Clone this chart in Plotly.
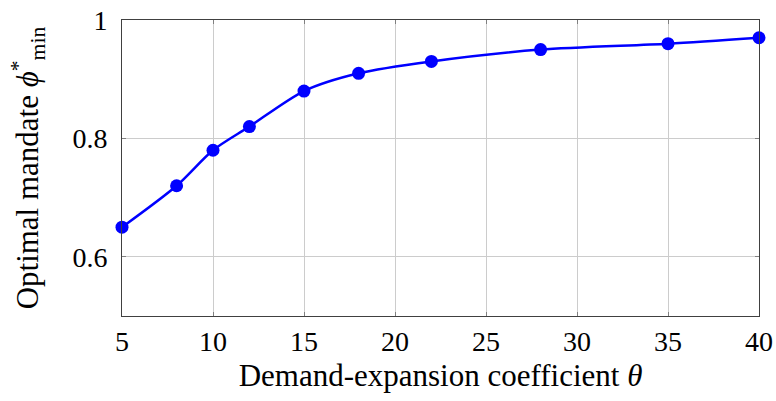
import plotly.graph_objects as go

theta = [5, 8, 10, 12, 15, 18, 22, 28, 35, 40]
phi = [0.65, 0.72, 0.78, 0.82, 0.88, 0.91, 0.93, 0.95, 0.96, 0.97]
x_ticks = [5, 10, 15, 20, 25, 30, 35, 40]
y_ticks = [0.6, 0.8, 1.0]
y_tick_text = ["0.6", "0.8", "1"]

fig = go.Figure()
fig.add_trace(go.Scatter(
    x=theta, y=phi, mode="lines+markers",
    line=dict(color="#0000ff", width=2.5, shape="spline", smoothing=0.8),
    marker=dict(color="#0000ff", size=13),
    showlegend=False, cliponaxis=False,
))

font = dict(family="Liberation Serif, Times New Roman, serif", color="black")
fig.update_layout(
    width=776, height=401,
    margin=dict(l=122, r=17, t=20, b=85, autoexpand=False),
    paper_bgcolor="white", plot_bgcolor="white",
    font=dict(size=28, **font),
    xaxis=dict(
        range=[5, 40], tickvals=x_ticks, automargin=False,
        showgrid=True, gridcolor="#cccccc", gridwidth=1,
        showline=True, linecolor="#404040", linewidth=1, mirror="ticks",
        ticks="inside", ticklen=4, tickcolor="#808080",
        zeroline=False, tickfont=dict(size=28),
        title=dict(text="Demand-expansion coefficient <i>θ</i>", font=dict(size=31), standoff=8),
    ),
    yaxis=dict(
        range=[0.5, 1.0], tickvals=y_ticks, ticktext=y_tick_text, automargin=False,
        showgrid=True, gridcolor="#cccccc", gridwidth=1,
        showline=True, linecolor="#404040", linewidth=1, mirror="ticks",
        ticks="inside", ticklen=4, tickcolor="#808080", ticklabelstandoff=8,
        zeroline=False, tickfont=dict(size=28),
        title=dict(text="Optimal mandate <i>ϕ</i><sup>*</sup><sub>min</sub>", font=dict(size=31), standoff=24),
    ),
)
fig.write_html("out.html", config={"displayModeBar": False},
               post_script="document.body.style.margin='0';document.body.style.padding='0';")
